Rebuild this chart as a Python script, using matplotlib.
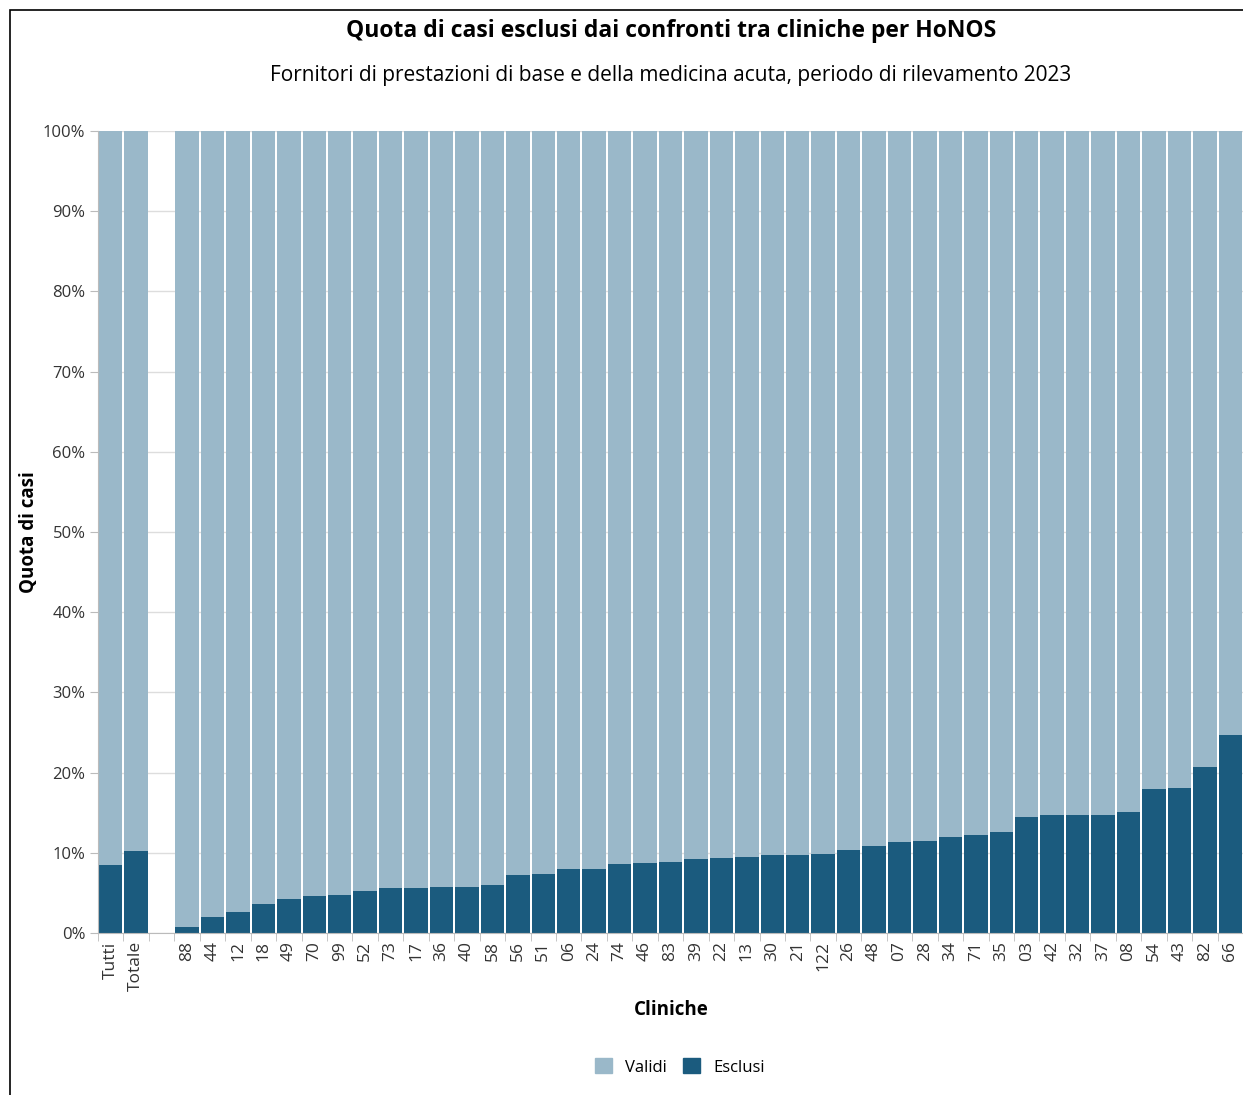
import numpy as np
import matplotlib
matplotlib.use("Agg")
from matplotlib import pyplot as plt
from matplotlib.patches import Rectangle, Patch

plt.rcParams['font.family'] = ['Open Sans', 'DejaVu Sans']

# categories (blank slot between the totals and the clinics)
cliniche = ["Tutti", "Totale", "",
            "88", "44", "12", "18", "49", "70", "99", "52", "73", "17", "36", "40", "58",
            "56", "51", "06", "24", "74", "46", "83", "39", "22", "13", "30", "21", "122",
            "26", "48", "07", "28", "34", "71", "35", "03", "42", "32", "37", "08", "54",
            "43", "82", "66"]
esclusi = [8.5, 10.2, 0,
           0.75, 2.0, 2.6, 3.6, 4.2, 4.6, 4.7, 5.2, 5.6, 5.6, 5.7, 5.7, 6.0,
           7.2, 7.3, 8.0, 8.0, 8.6, 8.7, 8.9, 9.2, 9.3, 9.5, 9.7, 9.7, 9.8,
           10.3, 10.8, 11.4, 11.5, 12.0, 12.2, 12.6, 14.5, 14.7, 14.7, 14.7, 15.1, 17.9,
           18.1, 20.7, 24.7]
validi = [0 if c == "" else 100 - e for c, e in zip(cliniche, esclusi)]

col_validi = "#9ab8c9"
col_esclusi = "#1b5b7e"

fig = plt.figure(figsize=(12.43, 10.95), dpi=100)
ax = fig.add_axes([98 / 1243, 1 - 933 / 1095, (1243 - 98) / 1243, (933 - 131) / 1095])

x = np.arange(len(cliniche))
ax.bar(x, esclusi, width=0.92, color=col_esclusi, zorder=2)
ax.bar(x, validi, bottom=esclusi, width=0.92, color=col_validi, zorder=2)

ax.set_xlim(-0.5, len(cliniche) - 0.5)
ax.set_ylim(0, 100)
ax.set_yticks(np.arange(0, 101, 10))
ax.set_yticklabels([f"{v}%" for v in range(0, 101, 10)], fontsize=12, color="#333333")
ax.yaxis.grid(True, color="#dddddd", linewidth=1, zorder=0)
ax.set_axisbelow(True)

ax.set_xticks(x)
ax.set_xticklabels(cliniche, rotation=90, fontsize=12.5, color="#333333")
ax.tick_params(axis="x", length=0, pad=6)
ax.set_xticks(np.arange(-0.5, len(cliniche), 1), minor=True)
ax.tick_params(axis="x", which="minor", length=6, color="#bbbbbb")
ax.tick_params(axis="y", length=6, color="#bbbbbb", pad=3)

for s in ["top", "right"]:
    ax.spines[s].set_visible(False)
for s in ["left", "bottom"]:
    ax.spines[s].set_color("#bbbbbb")

fig.text(671 / 1243, 1 - 31 / 1095, "Quota di casi esclusi dai confronti tra cliniche per HoNOS",
         ha="center", va="center", fontsize=16.5, fontweight="bold")
fig.text(671 / 1243, 1 - 75 / 1095,
         "Fornitori di prestazioni di base e della medicina acuta, periodo di rilevamento 2023",
         ha="center", va="center", fontsize=15)
fig.text(29 / 1243, 1 - 532 / 1095, "Quota di casi", rotation=90, ha="center", va="center",
         fontsize=13.5, fontweight="bold")
fig.text(671 / 1243, 1 - 1010 / 1095, "Cliniche", ha="center", va="center",
         fontsize=13.5, fontweight="bold")

handles = [Patch(color=col_validi, label="Validi"), Patch(color=col_esclusi, label="Esclusi")]
fig.legend(handles=handles, loc="center", bbox_to_anchor=(680 / 1243, 1 - 1067 / 1095),
           ncol=2, frameon=False, fontsize=12, handlelength=1.0, handleheight=1.0,
           columnspacing=1.0, handletextpad=0.8)

fig.add_artist(Rectangle((10 / 1243, -0.1), 1.2, 1 - 10 / 1095 + 0.1, transform=fig.transFigure,
                         fill=False, edgecolor="black", linewidth=1.2))

fig.savefig("out.png", dpi=100)
